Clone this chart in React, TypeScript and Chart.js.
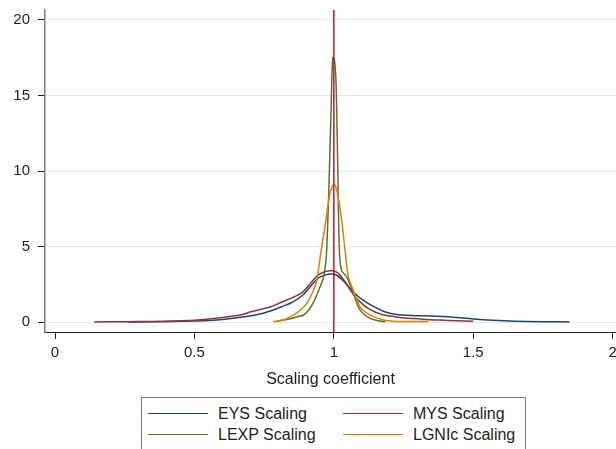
import React, { useEffect, useRef } from "react";
import { Chart, registerables } from "chart.js";

Chart.register(...registerables);

const xTicks = [0, 0.5, 1, 1.5, 2];
const yTicks = [0, 5, 10, 15, 20];
const seriesNames = ["EYS Scaling", "MYS Scaling", "LEXP Scaling", "LGNIc Scaling"];
const seriesColors = ["#1a476f", "#90353b", "#55752f", "#e37e00"];
const refLineX = 1;
const refLineColor = "#c8102e";
const xAxisTitle = "Scaling coefficient";

const eys: [number, number][] = [
  [0.26, 0.005], [0.35, 0.015], [0.42, 0.03], [0.5, 0.07], [0.55, 0.1], [0.6, 0.16],
  [0.664, 0.31], [0.703, 0.42], [0.75, 0.6], [0.807, 0.97], [0.85, 1.3], [0.889, 1.79],
  [0.92, 2.45], [0.943, 2.9], [0.97, 3.12], [0.99, 3.18], [1.01, 3.1], [1.027, 2.85],
  [1.045, 2.5], [1.063, 2.1], [1.09, 1.65], [1.123, 1.24], [1.15, 0.95], [1.18, 0.7],
  [1.22, 0.52], [1.28, 0.43], [1.35, 0.4], [1.42, 0.34], [1.5, 0.2], [1.57, 0.11],
  [1.65, 0.05], [1.75, 0.02], [1.845, 0.01],
];

const mys: [number, number][] = [
  [0.141, 0.005], [0.25, 0.02], [0.35, 0.04], [0.423, 0.07], [0.5, 0.12], [0.544, 0.18],
  [0.6, 0.3], [0.664, 0.46], [0.703, 0.68], [0.775, 1.01], [0.807, 1.28], [0.85, 1.6],
  [0.889, 2.0], [0.92, 2.65], [0.943, 3.1], [0.97, 3.35], [0.995, 3.4], [1.01, 3.3],
  [1.027, 3.0], [1.045, 2.55], [1.063, 2.0], [1.09, 1.4], [1.123, 0.9], [1.15, 0.65],
  [1.18, 0.46], [1.23, 0.32], [1.28, 0.24], [1.33, 0.17], [1.38, 0.13], [1.44, 0.08],
  [1.5, 0.05],
];

const lexp: [number, number][] = [
  [0.795, 0.05], [0.84, 0.2], [0.87, 0.35], [0.89, 0.45], [0.91, 0.8], [0.927, 1.3],
  [0.95, 2.3], [0.962, 2.9], [0.972, 4.1], [0.978, 6.5], [0.984, 10], [0.99, 14],
  [0.996, 17.5], [1.002, 17.4], [1.008, 15.8], [1.014, 10.3], [1.02, 4.6], [1.028, 3.4],
  [1.046, 3.0], [1.07, 1.9], [1.094, 0.8], [1.13, 0.24], [1.16, 0.08], [1.184, 0.02],
];

const lgnic: [number, number][] = [
  [0.783, 0.02], [0.82, 0.15], [0.855, 0.46], [0.88, 0.8], [0.903, 1.24], [0.925, 2.0],
  [0.939, 2.8], [0.953, 4.55], [0.968, 6.3], [0.986, 8.5], [1.001, 9.14], [1.013, 8.5],
  [1.028, 6.75], [1.04, 4.77], [1.052, 3.0], [1.07, 2.1], [1.094, 1.0], [1.13, 0.46],
  [1.178, 0.13], [1.22, 0.04], [1.27, 0.03], [1.34, 0.03],
];

const allSeries = [eys, mys, lexp, lgnic];

const X_MIN = -0.036;
const X_MAX = 2.012;
const Y_MIN = -0.66;
const Y_MAX = 20.66;

const FONT = "'Liberation Sans', Arial, Helvetica, sans-serif";
const TEXT = "#1e1e1e";

export default function App() {
  const ref = useRef<HTMLCanvasElement | null>(null);

  useEffect(() => {
    if (!ref.current) return;
    const datasets: any[] = allSeries.map((s, i) => ({
      label: seriesNames[i],
      data: s.map(([x, y]) => ({ x, y })),
      borderColor: seriesColors[i],
      backgroundColor: seriesColors[i],
      borderWidth: 1.5,
      pointRadius: 0,
      tension: 0.3,
      fill: false,
      order: 4 - i,
    }));
    datasets.push({
      label: "ref",
      data: [
        { x: refLineX, y: Y_MIN },
        { x: refLineX, y: Y_MAX },
      ],
      borderColor: refLineColor,
      borderWidth: 1.5,
      pointRadius: 0,
      fill: false,
      order: 0,
    });

    const chart = new Chart(ref.current, {
      type: "line",
      data: { datasets },
      options: {
        animation: false,
        responsive: false,
        maintainAspectRatio: false,
        layout: { padding: { left: 0, right: 0, top: 10, bottom: 60 } },
        plugins: { legend: { display: false }, tooltip: { enabled: false } },
        scales: {
          x: {
            type: "linear",
            min: X_MIN,
            max: X_MAX,
            afterBuildTicks: (s: any) => {
              s.ticks = xTicks.map((v) => ({ value: v }));
            },
            afterFit: (s: any) => {
              s.height = 57;
              s.paddingLeft = 0;
              s.paddingRight = 0;
            },
            grid: {
              drawOnChartArea: false,
              drawTicks: true,
              tickLength: 7,
              tickColor: "#222",
              tickWidth: 1,
            },
            border: { display: true, color: "#222", width: 1 },
            ticks: {
              padding: 5,
              maxRotation: 0,
              autoSkip: false,
              color: TEXT,
              font: { family: FONT, size: 15 },
              callback: (v: any) => String(v),
            },
            title: {
              display: true,
              text: xAxisTitle,
              color: TEXT,
              font: { family: FONT, size: 16 },
              padding: { top: 0, bottom: 0 },
            },
          },
          y: {
            type: "linear",
            min: Y_MIN,
            max: Y_MAX,
            afterBuildTicks: (s: any) => {
              s.ticks = yTicks.map((v) => ({ value: v }));
            },
            afterFit: (s: any) => {
              s.width = 45;
              s.paddingTop = 0;
              s.paddingBottom = 0;
            },
            grid: {
              drawOnChartArea: true,
              color: "#e2eaee",
              lineWidth: 1,
              tickLength: 7,
              tickColor: "#222",
              tickWidth: 1,
            },
            border: { display: true, color: "#7a7a7a", width: 1.5 },
            ticks: {
              padding: 8,
              autoSkip: false,
              color: TEXT,
              font: { family: FONT, size: 15 },
              callback: (v: any) => String(v),
            },
          },
        },
      },
    });
    return () => chart.destroy();
  }, []);

  const legendItem = (i: number, left: number, top: number) => (
    <div key={i} style={{ position: "absolute", left, top, height: 20, width: 190 }}>
      <div
        style={{
          position: "absolute",
          left: 0,
          top: 9,
          width: 60,
          height: 0,
          borderTop: `1.5px solid ${seriesColors[i]}`,
        }}
      />
      <div
        style={{
          position: "absolute",
          left: 70,
          top: 0,
          lineHeight: "20px",
          fontSize: 16,
          fontFamily: FONT,
          color: TEXT,
          whiteSpace: "nowrap",
        }}
      >
        {seriesNames[i]}
      </div>
    </div>
  );

  return (
    <div
      style={{
        position: "fixed",
        left: 0,
        top: 0,
        width: 616,
        height: 449,
        background: "#fff",
        overflow: "hidden",
      }}
    >
      <canvas ref={ref} width={616} height={449} style={{ position: "absolute", left: 0, top: 0, width: 616, height: 449 }} />
      <div
        style={{
          position: "absolute",
          left: 141,
          top: 397,
          width: 383,
          height: 70,
          border: "1px solid #7a7a7a",
          background: "#fff",
        }}
      >
        {legendItem(0, 6, 6)}
        {legendItem(1, 201, 6)}
        {legendItem(2, 6, 27)}
        {legendItem(3, 201, 27)}
      </div>
    </div>
  );
}
